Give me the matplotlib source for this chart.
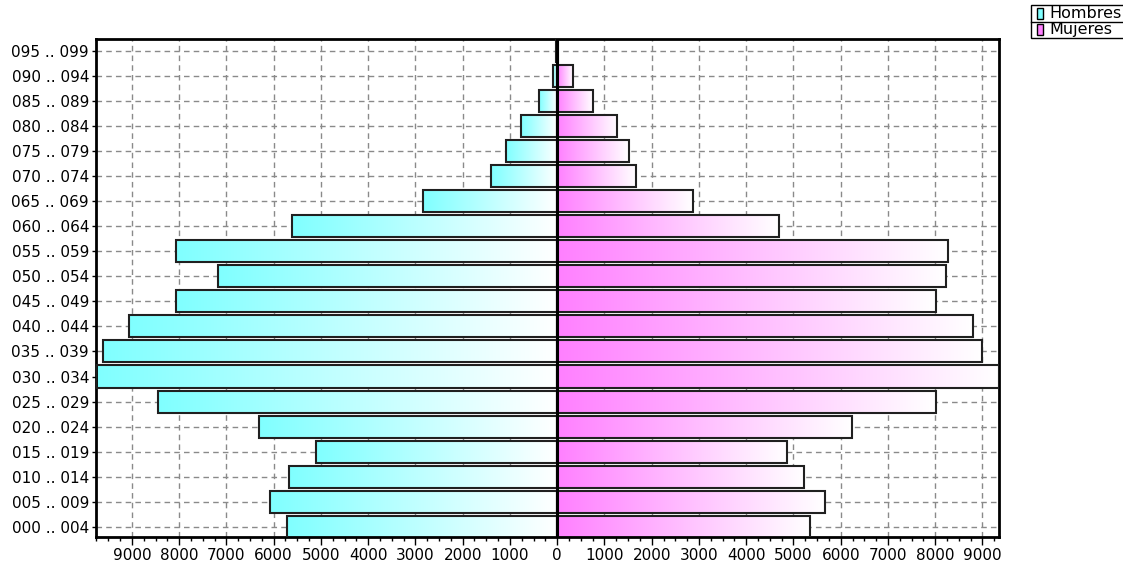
import numpy as np
import matplotlib
matplotlib.use("Agg")
import matplotlib.pyplot as plt
from matplotlib.patches import Rectangle
from matplotlib.lines import Line2D
from matplotlib.colors import LinearSegmentedColormap
from matplotlib.ticker import MultipleLocator, FuncFormatter

# grupos de edad, de abajo hacia arriba
grupos = ["000 .. 004", "005 .. 009", "010 .. 014", "015 .. 019", "020 .. 024",
          "025 .. 029", "030 .. 034", "035 .. 039", "040 .. 044", "045 .. 049",
          "050 .. 054", "055 .. 059", "060 .. 064", "065 .. 069", "070 .. 074",
          "075 .. 079", "080 .. 084", "085 .. 089", "090 .. 094", "095 .. 099"]
hombres = [5710, 6070, 5670, 5100, 6300, 8450, 9760, 9610, 9060, 8070,
           7180, 8070, 5610, 2830, 1410, 1090, 760, 380, 90, 15]
mujeres = [5340, 5660, 5230, 4870, 6235, 8020, 9350, 8990, 8800, 8010,
           8230, 8270, 4690, 2870, 1660, 1520, 1270, 760, 330, 20]

W, H = 1123, 567
fig = plt.figure(figsize=(W / 100, H / 100), dpi=100)
ax = fig.add_axes([96 / W, 1 - 537 / H, (999 - 96) / W, (537 - 39) / H])

cian = LinearSegmentedColormap.from_list("cian", ["#80ffff", "#ffffff"])
rosa = LinearSegmentedColormap.from_list("rosa", ["#ff80ff", "#ffffff"])
grad = np.linspace(0, 1, 256).reshape(1, -1)

y = np.arange(len(grupos))
alto = 0.88
bh = ax.barh(y, [-v for v in hombres], height=alto, facecolor="none",
             edgecolor="#202020", linewidth=1.5, zorder=3)
bm = ax.barh(y, mujeres, height=alto, facecolor="none",
             edgecolor="#202020", linewidth=1.5, zorder=3)

# relleno degradado de cada barra
for p in bh:
    x0 = p.get_x() + p.get_width()
    im = ax.imshow(grad, extent=[x0, 0, p.get_y(), p.get_y() + alto],
                   cmap=cian, aspect="auto", zorder=2, interpolation="bilinear")
    im.set_clip_path(p)
for p in bm:
    im = ax.imshow(grad, extent=[0, p.get_width(), p.get_y(), p.get_y() + alto],
                   cmap=rosa, aspect="auto", zorder=2, interpolation="bilinear")
    im.set_clip_path(p)

ax.axvline(0, color="black", linewidth=2.2, zorder=4)

ax.set_xlim(-max(hombres), max(mujeres))
ax.set_ylim(-0.41, 19.48)

ax.set_yticks(y)
ax.set_yticklabels(grupos)
ax.xaxis.set_major_locator(MultipleLocator(1000))
ax.xaxis.set_minor_locator(MultipleLocator(250))
ax.xaxis.set_major_formatter(FuncFormatter(lambda v, pos: "%d" % abs(round(v))))

ax.set_axisbelow(True)
ax.grid(True, which="major", color="#8a8a8a", linestyle=(0, (4, 3)), linewidth=1)

ax.tick_params(axis="x", which="major", length=6, width=1, direction="out",
               labelsize=11, pad=2)
ax.tick_params(axis="x", which="minor", length=3, width=1, direction="out")
ax.tick_params(axis="y", length=3, width=1, labelsize=11, pad=2)
for s in ax.spines.values():
    s.set_linewidth(2)
    s.set_color("black")

# leyenda
def px(xp, yp):
    return (xp / W, 1 - yp / H)

fig.add_artist(Rectangle(px(1031, 38), (W - 1031 + 5) / W, 33 / H,
                         transform=fig.transFigure, facecolor="white",
                         edgecolor="black", linewidth=1))
fig.add_artist(Line2D([1031 / W, 1], [1 - 21.5 / H] * 2, transform=fig.transFigure,
                      color="black", linewidth=1))
fig.add_artist(Rectangle(px(1037, 19), 6 / W, 11 / H, transform=fig.transFigure,
                         facecolor="#80ffff", edgecolor="black", linewidth=1))
fig.add_artist(Rectangle(px(1037, 35), 6 / W, 11 / H, transform=fig.transFigure,
                         facecolor="#ff80ff", edgecolor="black", linewidth=1))
fig.text(*px(1049, 13.5), "Hombres", fontsize=11.5, va="center", ha="left")
fig.text(*px(1049, 29.5), "Mujeres", fontsize=11.5, va="center", ha="left")

fig.savefig("out.png", dpi=100)
